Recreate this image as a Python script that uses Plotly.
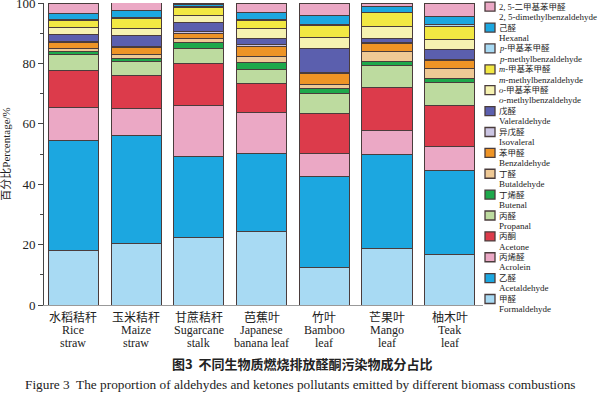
import plotly.graph_objects as go

categories = ["Rice straw", "Maize straw", "Sugarcane stalk", "Japanese banana leaf",
              "Bamboo leaf", "Mango leaf", "Teak leaf"]
tick_cn = ["水稻秸秆", "玉米秸秆", "甘蔗秸秆", "芭蕉叶", "竹叶", "芒果叶", "柚木叶"]
tick_en1 = ["Rice", "Maize", "Sugarcane", "Japanese", "Bamboo", "Mango", "Teak"]
tick_en2 = ["straw", "straw", "stalk", "banana leaf", "leaf", "leaf", "leaf"]

# series from bottom to top
formaldehyde   = [18.2, 20.3, 22.4, 24.3, 12.5, 18.6, 16.8]
acetaldehyde   = [36.3, 35.9, 26.9, 25.9, 30.0, 31.2, 27.8]
acrolein       = [10.8,  8.8, 16.8, 13.5,  7.7,  7.9,  7.8]
acetone        = [12.4, 11.0, 14.0,  9.5, 13.3, 14.4, 13.8]
propanal       = [ 5.1,  4.6,  4.9,  4.8,  6.6,  7.1,  7.5]
butenal        = [ 1.1,  1.1,  1.9,  2.4,  1.7,  1.5,  1.2]
butaldehyde    = [ 1.2,  1.3,  1.2,  2.0,  1.3,  3.3,  3.5]
benzaldehyde   = [ 1.9,  2.2,  1.9,  3.2,  3.7,  2.5,  2.5]
isovaleral     = [ 0.3,  0.4,  0.5,  0.8,  0.3,  0.5,  0.5]
valeraldehyde  = [ 2.3,  3.7,  3.2,  2.0,  8.0,  1.4,  3.1]
o_methylbenz   = [ 2.2,  2.1,  2.3,  3.1,  3.4,  3.9,  3.4]
m_methylbenz   = [ 2.4,  3.5,  2.6,  2.6,  4.2,  4.5,  4.3]
p_methylbenz   = [ 0.4,  0.4,  0.2,  0.5,  0.3,  0.2,  0.6]
hexanal        = [ 2.0,  2.1,  0.6,  2.3,  3.0,  1.9,  2.8]
dimethylbenz25 = [ 3.4,  2.8,  0.6,  3.1,  4.0,  1.1,  4.4]

names_cn = ["甲醛", "乙醛", "丙烯醛", "丙酮", "丙醛", "丁烯醛", "丁醛", "苯甲醛", "异戊醛", "戊醛",
            "<i>o</i>-甲基苯甲醛", "<i>m</i>-甲基苯甲醛", "<i>p</i>-甲基苯甲醛", "己醛", "2, 5-二甲基苯甲醛"]
names_en = ["Formaldehyde", "Acetaldehyde", "Acrolein", "Acetone", "Propanal", "Butenal",
            "Butaldehyde", "Benzaldehyde", "Isovaleral", "Valeraldehyde",
            "<i>o</i>-methylbenzaldehyde", "<i>m</i>-methylbenzaldehyde", "<i>p</i>-methylbenzaldehyde",
            "Hexanal", "2, 5-dimethylbenzaldehyde"]
series_values = [formaldehyde, acetaldehyde, acrolein, acetone, propanal, butenal, butaldehyde,
                 benzaldehyde, isovaleral, valeraldehyde, o_methylbenz, m_methylbenz, p_methylbenz,
                 hexanal, dimethylbenz25]
series_colors = ["#a8daf3", "#1ca7e0", "#eba8c5", "#dc3b4b", "#bddb9f", "#1ea84b", "#efc995",
                 "#ee9426", "#cbc5e3", "#5b5fae", "#f6f2b1", "#f2e843", "#a8daf3", "#1ca7e0",
                 "#eba8c5"]

serif = "Liberation Serif, Noto Sans CJK SC, serif"
outline = "#4a3c3c"

# pixel -> paper helpers (plot area: x 44..483, y 3..305)
L, W, T, H = 44, 439, 3, 302
def px(x):
    return (x - L) / W
def py(y):
    return (T + H - y) / H

fig = go.Figure()
for cn, en, vals, col in zip(names_cn, names_en, series_values, series_colors):
    fig.add_trace(go.Bar(
        x=categories, y=vals, name=cn + " " + en,
        marker=dict(color=col, line=dict(color=outline, width=1)),
    ))

fig.update_layout(
    width=600, height=395,
    barmode="stack", bargap=0.2,
    plot_bgcolor="white", paper_bgcolor="white",
    margin=dict(l=L, r=600 - L - W, t=T, b=395 - T - H),
    font=dict(family=serif, size=12, color="#222"),
    showlegend=False,
    xaxis=dict(
        range=[-0.47, 6.53], automargin=False,
        showline=True, linecolor="#999", linewidth=1,
        ticks="", showticklabels=False,
    ),
    yaxis=dict(
        range=[0, 100], automargin=False,
        showline=True, linecolor="#444", linewidth=1,
        ticks="outside", ticklen=5, tickcolor="#444", dtick=20,
        minor=dict(ticks="outside", ticklen=3, dtick=10, tickcolor="#444"),
        showgrid=False, zeroline=False, ticklabeloverflow="allow",
        tickfont=dict(family=serif, size=13, color="#222"),
        title=dict(text="百分比Percentage/%", font=dict(family=serif, size=11, color="#222"), standoff=4),
    ),
)

# category labels (3 lines)
for c, a, b, d in zip(categories, tick_cn, tick_en1, tick_en2):
    fig.add_annotation(text=a, x=c, xref="x", y=py(316), yref="paper", showarrow=False,
                       yanchor="middle", font=dict(family="Noto Sans CJK SC", size=12, color="#222"))
    fig.add_annotation(text=b, x=c, xref="x", y=py(330), yref="paper", showarrow=False,
                       yanchor="middle", font=dict(family=serif, size=12, color="#222"))
    fig.add_annotation(text=d, x=c, xref="x", y=py(343), yref="paper", showarrow=False,
                       yanchor="middle", font=dict(family=serif, size=12, color="#222"))

# legend (top item = last series)
for i in range(len(series_values)):
    k = len(series_values) - 1 - i
    cy = 6.7 + 20.88 * i
    fig.add_shape(type="rect", xref="paper", yref="paper",
                  x0=px(485), x1=px(495), y0=py(cy - 4.5), y1=py(cy + 4.5),
                  fillcolor=series_colors[k], line=dict(color=outline, width=1.3))
    fig.add_annotation(text=names_cn[k], xref="paper", yref="paper", x=px(497), y=py(cy),
                       xanchor="left", yanchor="middle", showarrow=False,
                       font=dict(family=serif, size=8.5, color="#222"))
    fig.add_annotation(text=names_en[k], xref="paper", yref="paper", x=px(497), y=py(cy + 10.2),
                       xanchor="left", yanchor="middle", showarrow=False,
                       font=dict(family=serif, size=9, color="#222"))

fig.add_annotation(text="<b>图3  不同生物质燃烧排放醛酮污染物成分占比</b>",
                   xref="paper", yref="paper", x=px(302), y=py(363), yanchor="middle",
                   showarrow=False, font=dict(family="Noto Sans CJK SC", size=13, color="#222"))
fig.add_annotation(text="Figure 3  The proportion of aldehydes and ketones pollutants emitted by different biomass combustions",
                   xref="paper", yref="paper", x=px(300), y=py(384), yanchor="middle",
                   showarrow=False, font=dict(family=serif, size=13.3, color="#222"))

fig.write_html("out.html", config={"displayModeBar": False},
               post_script="document.body.style.margin='0';")
